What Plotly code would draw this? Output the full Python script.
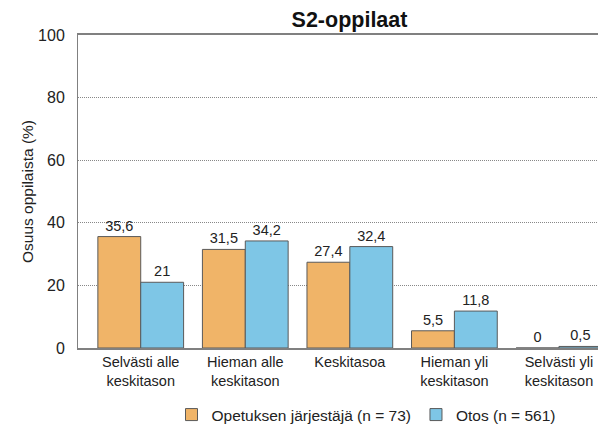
import plotly.graph_objects as go

categories = ["Selvästi alle<br>keskitason", "Hieman alle<br>keskitason", "Keskitasoa",
              "Hieman yli<br>keskitason", "Selvästi yli<br>keskitason"]
series_names = ["Opetuksen järjestäjä (n = 73)", "Otos (n = 561)"]
jarjestaja = [35.6, 31.5, 27.4, 5.5, 0]
otos = [21, 34.2, 32.4, 11.8, 0.5]
y_ticks = [0, 20, 40, 60, 80, 100]

colors = ["#F0B468", "#7EC6E6"]
FONT = "Liberation Sans, Arial, sans-serif"

# page body has an 8px default margin; figure is sized/offset to compensate
W, H = 598, 423
ML, MT, MB = 70, 27, 83

def fmt(v):
    return ("%g" % v).replace(".", ",")

fig = go.Figure()
for name, vals, col in zip(series_names, [jarjestaja, otos], colors):
    fig.add_trace(go.Bar(
        x=list(range(len(categories))), y=vals, name=name,
        marker=dict(color=col, line=dict(color="#5a5a5a", width=1)),
        text=[fmt(v) for v in vals], textposition="outside",
        textfont=dict(family=FONT, size=14.5, color="#222"),
        cliponaxis=False,
    ))

plot_w = W - ML
plot_h = H - MT - MB
fig.update_layout(
    width=W, height=H,
    margin=dict(l=ML, r=0, t=MT, b=MB, autoexpand=False),
    paper_bgcolor="white", plot_bgcolor="white",
    barmode="group", bargap=0.18, bargroupgap=0,
    font=dict(family=FONT, size=14.5, color="#222"),
    title=dict(text="<b>S2-oppilaat</b>", x=(349.5 - 8) / W, xref="container", xanchor="center",
               y=1 - (19 - 8) / H, yref="container", yanchor="middle",
               font=dict(family=FONT, size=21.5, color="#111")),
    legend=dict(orientation="h", x=(366 - 8 - ML) / plot_w, xanchor="center",
                y=(H - MB - (415 - 8)) / plot_h, yanchor="middle",
                font=dict(family=FONT, size=15.5, color="#222"),
                traceorder="normal"),
    showlegend=True,
)
fig.update_xaxes(
    tickmode="array", tickvals=list(range(len(categories))), ticktext=categories,
    range=[-0.6, 4.45], showline=True, linecolor="#808080", linewidth=1.5, mirror=True,
    showgrid=False, zeroline=False, ticks="", tickfont=dict(family=FONT, size=14.5, color="#222"),
    automargin=False,
)
fig.update_yaxes(
    range=[0, 100], tickvals=y_ticks, showline=True, linecolor="#808080", linewidth=1,
    showgrid=True, gridcolor="#888888", griddash="1px,1px", gridwidth=1, zeroline=False,
    ticks="", ticklabelstandoff=9, tickfont=dict(family=FONT, size=16, color="#222"),
    title=dict(text="Osuus oppilaista (%)", font=dict(family=FONT, size=15.5, color="#222"), standoff=0),
    automargin=False,
)
fig.write_html("out.html")
